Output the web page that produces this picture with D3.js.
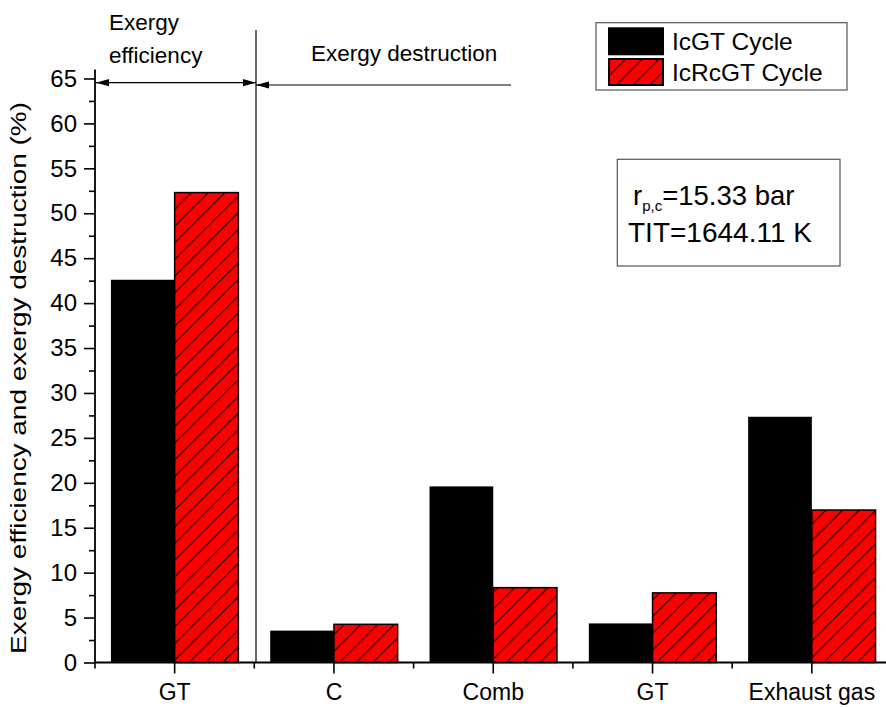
<!DOCTYPE html>
<html>
<head>
<meta charset="utf-8">
<script src="https://cdn.jsdelivr.net/npm/d3@7"></script>
<style>
  html, body { margin: 0; padding: 0; background: #fff; }
  svg { display: block; font-family: "Liberation Sans", Arial, sans-serif; }
</style>
</head>
<body>
<svg id="chart" width="886" height="707"></svg>
<script>
// ---- data ----
const categories = ["GT", "C", "Comb", "GT", "Exhaust gas"];
const icgt = [42.6, 3.55, 19.6, 4.35, 27.35];
const icrcgt = [52.3, 4.25, 8.33, 7.75, 16.97];
const seriesNames = ["IcGT Cycle", "IcRcGT Cycle"];
const yMajorTicks = [0, 5, 10, 15, 20, 25, 30, 35, 40, 45, 50, 55, 60, 65];

(function () {
const svg = d3.select("#chart");
const pLeft = 95, pBottom = 662.5, pTop = 69.5;
const bandW = 159.3;

const x = d3.scaleBand()
  .domain(d3.range(categories.length))
  .range([pLeft, pLeft + bandW * categories.length])
  .paddingInner(0).paddingOuter(0);
const y = d3.scaleLinear().domain([0, 66]).range([pBottom, pTop]);
const barW = x.bandwidth() * 0.4;

// hatch pattern
const defs = svg.append("defs");
const pat = defs.append("pattern")
  .attr("id", "hatch").attr("patternUnits", "userSpaceOnUse")
  .attr("width", 16.7).attr("height", 16.7);
pat.append("rect").attr("width", 16.7).attr("height", 16.7).attr("fill", "#ff0000");
pat.append("path").attr("d", "M-2,2 L2,-2 M0,16.7 L16.7,0 M14.7,18.7 L18.7,14.7")
  .attr("stroke", "#000").attr("stroke-width", 1);

// bars
const g = svg.append("g");
g.selectAll("rect.b1").data(icgt).join("rect")
  .attr("x", (d, i) => x(i) + x.bandwidth() / 2 - barW)
  .attr("y", d => y(d))
  .attr("width", barW)
  .attr("height", d => y(0) - y(d))
  .attr("fill", "#000");
g.selectAll("rect.b2").data(icrcgt).join("rect")
  .attr("x", (d, i) => x(i) + x.bandwidth() / 2)
  .attr("y", d => y(d))
  .attr("width", barW)
  .attr("height", d => y(0) - y(d))
  .attr("fill", "url(#hatch)")
  .attr("stroke", "#000").attr("stroke-width", 1.5);

// y axis
const yAxis = d3.axisLeft(y).tickValues(yMajorTicks).tickSize(11).tickPadding(7);
const ya = svg.append("g").attr("transform", `translate(${pLeft},0)`).call(yAxis);
ya.select(".domain").remove();
ya.selectAll("line").attr("stroke", "#000").attr("stroke-width", 1.6);
ya.selectAll("text").attr("font-size", 24).attr("fill", "#000")
  .attr("font-family", "Liberation Sans, Arial, sans-serif");
const yMinor = d3.axisLeft(y)
  .tickValues(yMajorTicks.map(v => v + 2.5).filter(v => v < y.domain()[1]))
  .tickSize(6).tickFormat("");
const ym = svg.append("g").attr("transform", `translate(${pLeft},0)`).call(yMinor);
ym.select(".domain").remove();
ym.selectAll("line").attr("stroke", "#000").attr("stroke-width", 1.6);
svg.append("line").attr("x1", pLeft).attr("x2", pLeft).attr("y1", pTop).attr("y2", pBottom + 0.8)
  .attr("stroke", "#000").attr("stroke-width", 1.8);

// x axis
const xAxis = d3.axisBottom(x).tickFormat(i => categories[i]).tickSize(11).tickPadding(10);
const xa = svg.append("g").attr("transform", `translate(0,${pBottom})`).call(xAxis);
xa.select(".domain").remove();
xa.selectAll("line").attr("stroke", "#000").attr("stroke-width", 1.6);
xa.selectAll("text").attr("font-size", 23).attr("fill", "#000")
  .attr("font-family", "Liberation Sans, Arial, sans-serif");
// minor x ticks at band edges
svg.append("g").selectAll("line").data(d3.range(categories.length + 1)).join("line")
  .attr("x1", i => pLeft + i * x.bandwidth()).attr("x2", i => pLeft + i * x.bandwidth())
  .attr("y1", pBottom).attr("y2", pBottom + 6)
  .attr("stroke", "#000").attr("stroke-width", 1.6);
svg.append("line").attr("x1", pLeft).attr("x2", 886).attr("y1", pBottom).attr("y2", pBottom)
  .attr("stroke", "#000").attr("stroke-width", 1.8);

// y title
svg.append("text")
  .attr("transform", "translate(26,378) rotate(-90) scale(1.27,1)")
  .attr("text-anchor", "middle")
  .attr("font-size", 22)
  .text("Exergy efficiency and exergy destruction (%)");

// separator & arrows
const sepX = x(0) + x.bandwidth() + 1.7;
svg.append("line").attr("x1", sepX).attr("x2", sepX).attr("y1", 30).attr("y2", pBottom)
  .attr("stroke", "#000").attr("stroke-width", 1.2);
const arrowL = 13, arrowH = 3.6;
function arrowHead(tipX, tipY, dir) {
  svg.append("path")
    .attr("d", `M${tipX},${tipY} L${tipX + dir * arrowL},${tipY - arrowH} L${tipX + dir * arrowL},${tipY + arrowH} Z`)
    .attr("fill", "#000");
}
const a1y = 82.7, a2y = 85;
svg.append("line").attr("x1", pLeft + 1).attr("x2", sepX).attr("y1", a1y).attr("y2", a1y)
  .attr("stroke", "#000").attr("stroke-width", 1.2);
arrowHead(pLeft + 1, a1y, 1);
arrowHead(sepX, a1y, -1);
svg.append("line").attr("x1", sepX).attr("x2", 511).attr("y1", a2y).attr("y2", a2y)
  .attr("stroke", "#000").attr("stroke-width", 1.2);
arrowHead(sepX, a2y, 1);

svg.append("text").attr("x", 109).attr("y", 30).attr("font-size", 22.5).text("Exergy");
svg.append("text").attr("x", 109).attr("y", 63).attr("font-size", 22.5).text("efficiency");
svg.append("text").attr("x", 311).attr("y", 61).attr("font-size", 22.5).text("Exergy destruction");

// legend
svg.append("rect").attr("x", 596).attr("y", 22.7).attr("width", 251).attr("height", 67.3)
  .attr("fill", "#fff").attr("stroke", "#555").attr("stroke-width", 1.2);
const legFills = ["#000", "url(#hatch)"];
const legY = [28.3, 59];
seriesNames.forEach((n, i) => {
  svg.append("rect").attr("x", 609).attr("y", legY[i]).attr("width", 54).attr("height", 26)
    .attr("fill", legFills[i]).attr("stroke", "#000").attr("stroke-width", 2);
  svg.append("text").attr("x", 672).attr("y", legY[i] + 22).attr("font-size", 24.5).text(n);
});

// info box
svg.append("rect").attr("x", 617.3).attr("y", 159.3).attr("width", 222.7).attr("height", 106.7)
  .attr("fill", "#fff").attr("stroke", "#555").attr("stroke-width", 1.2);
const t1 = svg.append("text").attr("x", 633).attr("y", 205).attr("font-size", 27.5);
t1.append("tspan").text("r");
t1.append("tspan").attr("font-size", 15).attr("dy", 6).text("p,c");
t1.append("tspan").attr("dy", -6).text("=15.33 bar");
svg.append("text").attr("x", 628).attr("y", 242).attr("font-size", 28).text("TIT=1644.11 K");
})();
</script>
</body>
</html>
